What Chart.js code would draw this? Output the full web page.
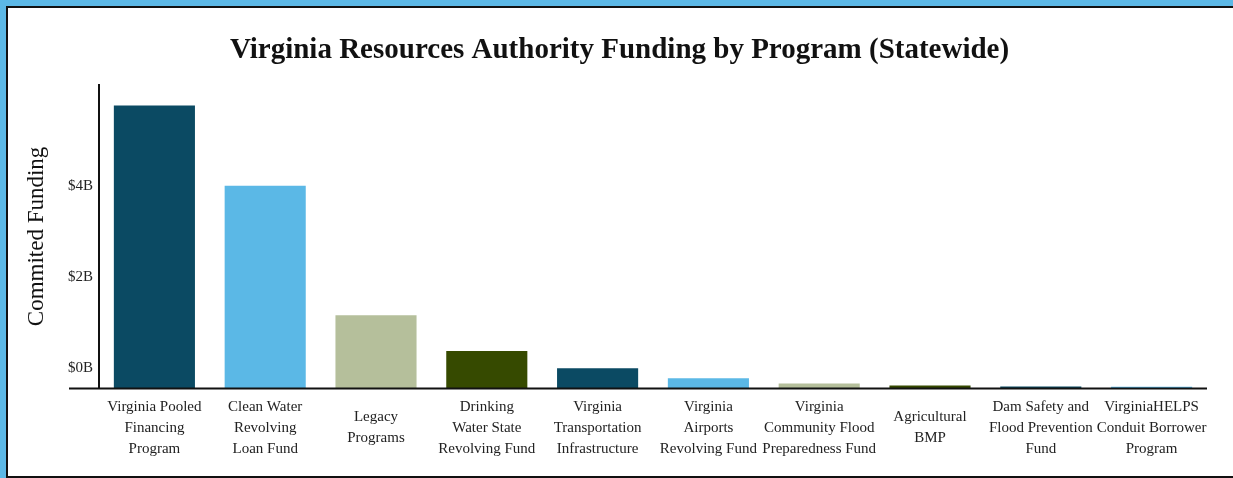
<!DOCTYPE html>
<html>
<head>
<meta charset="utf-8">
<script src="https://cdn.jsdelivr.net/npm/chart.js@4"></script>
<style>
  html, body { margin: 0; padding: 0; }
  body { width: 1233px; height: 478px; background: #5cb8e6; overflow: hidden; position: relative; }
  #panel { position: absolute; left: 6px; top: 6px; width: 1240px; height: 468px;
           background: #fff; border-left: 2px solid #111; border-top: 2px solid #111; border-bottom: 2px solid #111; }
  #wrap { position: absolute; left: 0; top: 0; width: 1225px; height: 468px; }
</style>
</head>
<body>
<div id="panel"><div id="wrap"><canvas id="myChart"></canvas></div></div>
<script>
const programs = [
  ['Virginia Pooled', 'Financing', 'Program'],
  ['Clean Water', 'Revolving', 'Loan Fund'],
  ['Legacy', 'Programs'],
  ['Drinking', 'Water State', 'Revolving Fund'],
  ['Virginia', 'Transportation', 'Infrastructure'],
  ['Virginia', 'Airports', 'Revolving Fund'],
  ['Virginia', 'Community Flood', 'Preparedness Fund'],
  ['Agricultural', 'BMP'],
  ['Dam Safety and', 'Flood Prevention', 'Fund'],
  ['VirginiaHELPS', 'Conduit Borrower', 'Program']
];
// committed funding, billions of dollars
const fundingB = [6.22, 4.46, 1.62, 0.835, 0.455, 0.235, 0.12, 0.075, 0.055, 0.05];
const barColors = ['#0b4a63', '#5bb8e6', '#b5bf9b', '#364a00', '#0b4a63', '#5bb8e6', '#b5bf9b', '#364a00', '#0b4a63', '#5bb8e6'];
const yTicks = [0, 2e9, 4e9];

const serif = "'Liberation Serif', 'DejaVu Serif', serif";
Chart.defaults.font.family = serif;
Chart.defaults.color = '#222';

// x axis line runs a bit past the y axis on the left
const baseLine = {
  id: 'baseLine',
  afterDraw(chart) {
    const c = chart.ctx, a = chart.chartArea;
    const y = chart.scales.y.getPixelForValue(0);
    c.save();
    c.strokeStyle = '#111';
    c.lineWidth = 2;
    c.beginPath();
    c.moveTo(a.left - 30, y + 0.5);
    c.lineTo(a.right, y + 0.5);
    c.stroke();
    c.restore();
  }
};

const ctx = document.getElementById('myChart');
new Chart(ctx, {
  type: 'bar',
  data: {
    labels: programs,
    datasets: [{
      data: fundingB.map(v => v * 1e9),
      backgroundColor: barColors,
      borderColor: 'rgba(255,255,255,0.35)',
      borderWidth: 1,
      barPercentage: 0.75,
      categoryPercentage: 1
    }]
  },
  plugins: [baseLine],
  options: {
    responsive: true,
    maintainAspectRatio: false,
    animation: false,
    layout: { padding: { left: 0, right: 2, top: 0, bottom: 0 } },
    plugins: {
      legend: { display: false },
      tooltip: { enabled: false },
      title: {
        display: true,
        text: 'Virginia Resources Authority Funding by Program (Statewide)',
        color: '#111',
        font: { size: 29, weight: 'bold', family: serif },
        padding: { top: 25, bottom: 17 }
      }
    },
    scales: {
      x: {
        grid: { display: false, drawTicks: false },
        border: { display: false },
        ticks: {
          color: '#222',
          font: { size: 15, lineHeight: 1.4 },
          maxRotation: 0,
          autoSkip: false,
          crossAlign: 'center',
          padding: 19
        },
        afterFit: s => { s.height = 88; }
      },
      y: {
        min: 0,
        max: 6.65e9,
        grid: { display: false, drawTicks: false },
        border: { display: true, color: '#111', width: 2 },
        afterBuildTicks: s => { s.ticks = yTicks.map(v => ({ value: v })); },
        afterFit: s => { s.width = 91; },
        ticks: {
          color: '#222',
          font: { size: 15 },
          padding: 6,
          labelOffset: -20,
          callback: v => '$' + (v / 1e9) + 'B'
        },
        title: {
          display: true,
          text: 'Commited Funding',
          color: '#111',
          font: { size: 23 },
          padding: { top: 15, bottom: 0 }
        }
      },
      // empty right margin so the title centres on the whole panel
      yRight: {
        position: 'right',
        grid: { display: false, drawTicks: false },
        border: { display: false },
        ticks: { display: false },
        afterFit: s => { s.width = 24; }
      }
    }
  }
});
</script>
</body>
</html>
